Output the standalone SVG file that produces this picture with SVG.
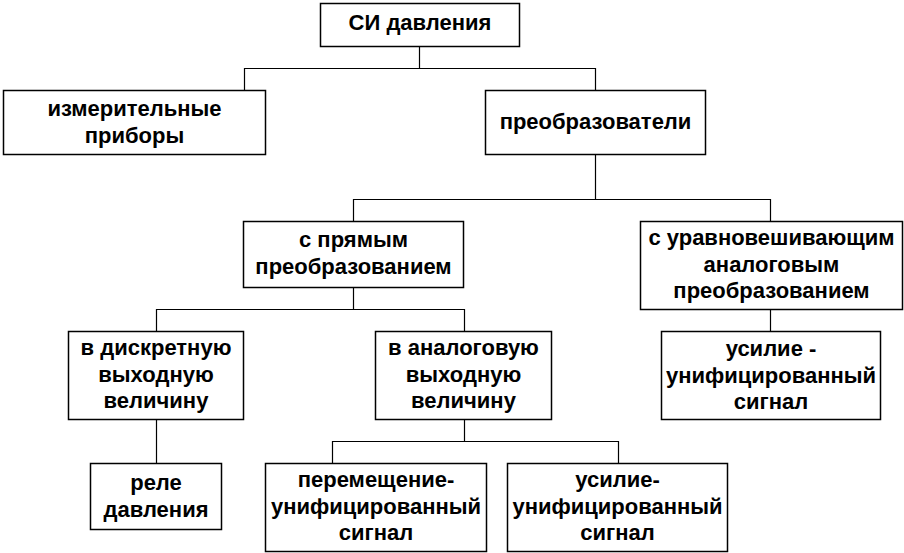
<svg xmlns="http://www.w3.org/2000/svg" width="904" height="553" viewBox="0 0 904 553">
<style>
rect{fill:#fff;stroke:#000;stroke-width:1.5}
text{font-family:"Liberation Sans",Arial,sans-serif;font-weight:bold;font-size:22px;fill:#000;text-anchor:middle}
#connectors path{fill:none;stroke:#000;stroke-width:1.2}
</style>
<rect x="0" y="0" width="904" height="553" style="stroke:none"/>
<g id="connectors">
<path d="M419.5 46V68.5M244.5 90V68.5H595.5V90"/>
<path d="M595.5 155V199.5M353.5 221V199.5H770.5V221"/>
<path d="M353.5 287V309.5M156.5 331V309.5H464.5V331"/>
<path d="M770.5 309V331"/>
<path d="M156.5 419V463"/>
<path d="M464.5 419V441.5M332.5 463V441.5H618.5V463"/>
</g>
<g id="si"><rect x="320.5" y="3.5" width="199" height="43"/><text x="420" y="30">СИ давления</text></g>
<g id="izm"><rect x="3.5" y="90.5" width="262" height="64"/><text x="134.5" y="116">измерительные</text><text x="134.5" y="142.5">приборы</text></g>
<g id="preob"><rect x="485.5" y="90.5" width="220" height="64"/><text x="595.5" y="129">преобразователи</text></g>
<g id="pryam"><rect x="243.5" y="221.5" width="220" height="66"/><text x="353.5" y="247">с прямым</text><text x="353.5" y="273.5">преобразованием</text></g>
<g id="uravn"><rect x="640.5" y="221.5" width="262" height="88"/><text x="771.5" y="245">с уравновешивающим</text><text x="771.5" y="271.5">аналоговым</text><text x="771.5" y="298">преобразованием</text></g>
<g id="diskr"><rect x="68.5" y="331.5" width="175" height="88"/><text x="156" y="355">в дискретную</text><text x="156" y="381.5">выходную</text><text x="156" y="408">величину</text></g>
<g id="analog"><rect x="375.5" y="331.5" width="176" height="88"/><text x="463.5" y="355">в аналоговую</text><text x="463.5" y="381.5">выходную</text><text x="463.5" y="408">величину</text></g>
<g id="usil1"><rect x="661.5" y="331.5" width="219" height="88"/><text x="771" y="356">усилие -</text><text x="771" y="382.5">унифицированный</text><text x="771" y="409">сигнал</text></g>
<g id="rele"><rect x="90.5" y="463.5" width="131" height="66"/><text x="156" y="490">реле</text><text x="156" y="516.5">давления</text></g>
<g id="perem"><rect x="265.5" y="463.5" width="221" height="88"/><text x="376" y="487">перемещение-</text><text x="376" y="513.5">унифицированный</text><text x="376" y="540">сигнал</text></g>
<g id="usil2"><rect x="507.5" y="463.5" width="220" height="88"/><text x="617.5" y="487">усилие-</text><text x="617.5" y="513.5">унифицированный</text><text x="617.5" y="540">сигнал</text></g>
</svg>
